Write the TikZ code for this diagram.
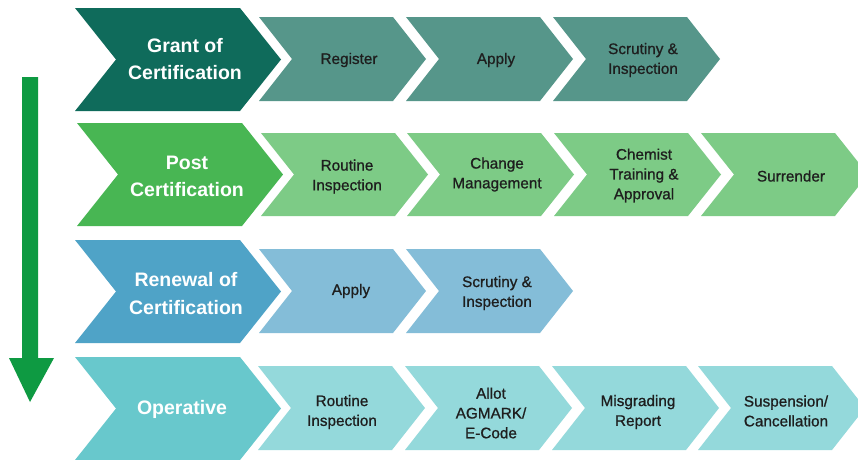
\documentclass[tikz,border=0pt]{standalone}
\usepackage{fontspec}
\setmainfont{Liberation Sans}
\newfontfamily\subfont[BoldFont=Liberation Sans, BoldFeatures={FakeBold=0.9}]{Liberation Sans}
\usetikzlibrary{calc}
\definecolor{gMain}{HTML}{0F6B5B}
\definecolor{gSub}{HTML}{56968A}
\definecolor{pMain}{HTML}{48B653}
\definecolor{pSub}{HTML}{7DCB86}
\definecolor{rMain}{HTML}{4FA3C7}
\definecolor{rSub}{HTML}{84BDD8}
\definecolor{oMain}{HTML}{68C8CC}
\definecolor{oSub}{HTML}{94D9DB}
\definecolor{arrowGreen}{HTML}{0E9A42}
\definecolor{subText}{HTML}{1E1E1E}
% #1 colour, #2 left, #3 top, #4 bottom, #5 width to corner, #6 point depth
\newcommand\mychev[6]{%
  \fill[#1] (#2,#3) -- ({#2+#5},#3) -- ({#2+#5+#6},{(#3+#4)/2}) -- ({#2+#5},#4)
    -- (#2,#4) -- ({#2+#6},{(#3+#4)/2}) -- cycle;}
\newcommand\mainchev[4]{\mychev{#1}{#2}{#3}{#4}{165}{41}}
\newcommand\subchev[4]{\mychev{#1}{#2}{#3}{#4}{134}{33}}
\begin{document}
\begin{tikzpicture}[x=1pt,y=-1pt,
  maintext/.style={text=white,align=center,inner sep=0pt,font=\fontsize{19.5}{27.5}\selectfont\bfseries},
  subtext/.style={text=subText,align=center,inner sep=0pt,font=\subfont\fontsize{15.3}{19.8}\selectfont\bfseries}]
\useasboundingbox[fill=white] (0,0) rectangle (858,459);

% Row 1: Grant of Certification
\mainchev{gMain}{75}{8}{111}
\subchev{gSub}{259}{17}{101}
\subchev{gSub}{406}{17}{101}
\subchev{gSub}{553}{17}{101}
\node[maintext] (g0) at (185,59) {Grant of\\Certification};
\node[subtext] (g1) at (349,60) {Register};
\node[subtext] (g2) at (496,60) {Apply};
\node[subtext] (g3) at (643,60) {Scrutiny \&\\Inspection};

% Row 2: Post Certification
\mainchev{pMain}{77}{123}{226}
\subchev{pSub}{261}{133}{216}
\subchev{pSub}{407}{133}{216}
\subchev{pSub}{554}{133}{216}
\subchev{pSub}{701}{133}{216}
\node[maintext] (p0) at (187,176.5) {Post\\Certification};
\node[subtext] (p1) at (347,176.5) {Routine\\Inspection};
\node[subtext] (p2) at (497,174.5) {Change\\Management};
\node[subtext] (p3) at (644,175.5) {Chemist\\Training \&\\Approval};
\node[subtext] (p4) at (791,176) {Surrender};

% Row 3: Renewal of Certification
\mainchev{rMain}{75}{240}{343}
\subchev{rSub}{259}{249}{333}
\subchev{rSub}{406}{249}{333}
\node[maintext] (r0) at (186,293.5) {Renewal of\\Certification};
\node[subtext] (r1) at (351,291) {Apply};
\node[subtext] (r2) at (497,293) {Scrutiny \&\\Inspection};

% Row 4: Operative
\mainchev{oMain}{75}{357}{460}
\subchev{oSub}{258}{366}{450}
\subchev{oSub}{405}{366}{450}
\subchev{oSub}{552}{366}{450}
\subchev{oSub}{698}{366}{450}
\node[maintext] (o0) at (182,409) {Operative};
\node[subtext] (o1) at (342,412) {Routine\\Inspection};
\node[subtext] (o2) at (491,413) {Allot\\AGMARK/\\E-Code};
\node[subtext] (o3) at (638,412) {Misgrading\\Report};
\node[subtext] (o4) at (786,411) {Suspension/\\Cancellation};

% Downward arrow
\coordinate (aTop) at (30,77);
\coordinate (aTip) at (30,402);
\fill[arrowGreen] ($(aTop)+(-8,0)$) -- ($(aTop)+(8,0)$) -- (38,358) -- (54,358)
  -- (aTip) -- (9,358) -- (22,358) -- cycle;
\end{tikzpicture}
\end{document}
